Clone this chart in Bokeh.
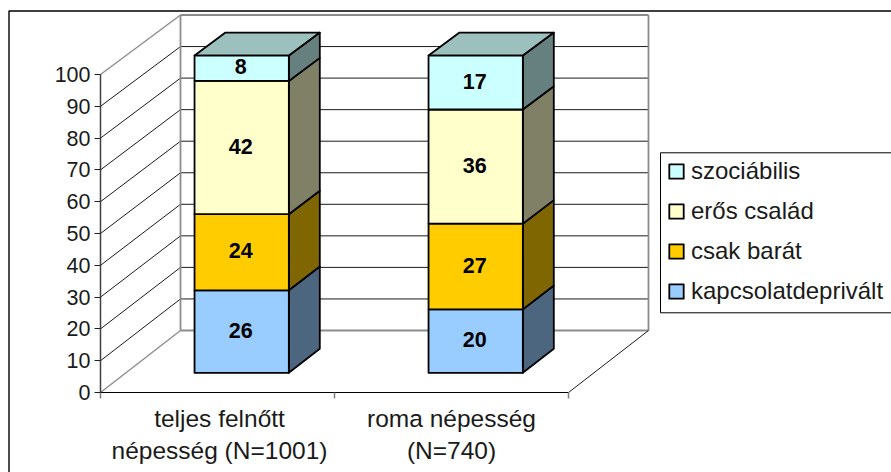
from bokeh.plotting import figure
from bokeh.models import LinearAxis, FixedTicker, Legend, LegendItem
from bokeh.core.properties import value
from bokeh.embed import file_html
from bokeh.resources import INLINE

categories = [["teljes felnőtt", "népesség (N=1001)"], ["roma népesség", "(N=740)"]]
series_names = ["kapcsolatdeprivált", "csak barát", "erős család", "szociábilis"]
kapcsolatdeprivalt = [26, 20]
csak_barat = [24, 27]
eros_csalad = [42, 36]
szociabilis = [8, 17]
y_ticks = [0, 10, 20, 30, 40, 50, 60, 70, 80, 90, 100]
front_colors = ["#99CCFF", "#FFCC00", "#FFFFCC", "#CCFFFF"]
side_colors = ["#4D6680", "#806600", "#808066", "#668080"]
top_color = "#9CC0BD"
FONT = "Liberation Sans"

# oblique projection: depth d in 0..1 shifts right and up
UNIT = 3.18          # px per value unit on the front plane
BACK = 3.155         # px per value unit on the back wall
DX, DY = 80, 62
X0, X1 = 100, 568
XM = (X0 + X1) / 2


def proj(x, v, d):
    s = UNIT + (BACK - UNIT) * d
    return x + DX * d, (v * s + DY * d) / UNIT


def vy(page_y):
    return (392 - page_y) / UNIT


p = figure(width=891, height=472, x_range=(0, 891), y_range=(vy(472), vy(0)),
           output_backend="svg", toolbar_location=None, min_border=0,
           x_axis_type=None, y_axis_type=None, outline_line_color=None)
p.grid.visible = False


def seg(a, b, color, w):
    p.line([a[0], b[0]], [a[1], b[1]], line_color=color, line_width=w)


# outer frame
p.line([8.5, 8.5, 891], [vy(472), vy(10.5), vy(10.5)], line_color="#000000", line_width=1.4)

# walls
GRAY = "#8C8C8C"
for v in y_ticks[1:-1]:
    seg(proj(X0, v, 0), proj(X0, v, 1), "#000000", 0.9)
    seg(proj(X0, v, 1), proj(X1, v, 1), "#000000", 0.9)
seg(proj(X0, 0, 1), proj(X1, 0, 1), GRAY, 1.8)
seg(proj(X0, 100, 1), proj(X1, 100, 1), GRAY, 1.8)
seg(proj(X0, 0, 1), proj(X0, 100, 1), GRAY, 1.8)
seg(proj(X1, 0, 1), proj(X1, 100, 1), GRAY, 1.8)
seg(proj(X0, 0, 0), proj(X0, 0, 1), GRAY, 1.4)
seg(proj(X0, 100, 0), proj(X0, 100, 1), GRAY, 1.4)
seg(proj(X1, 0, 0), proj(X1, 0, 1), "#000000", 0.9)

# axes
yaxis = LinearAxis(fixed_location=X0, ticker=FixedTicker(ticks=y_ticks), bounds=(0, 100),
                   axis_line_color="#404040", axis_line_width=1.5,
                   major_tick_line_color="#202020", major_tick_in=0, major_tick_out=6,
                   major_label_standoff=4, major_label_text_font=FONT,
                   major_label_text_font_size="21.5px", major_label_text_color="#1a1a1a")
p.add_layout(yaxis, "left")
xaxis = LinearAxis(fixed_location=0, ticker=FixedTicker(ticks=[X0, XM, X1]), bounds=(X0, X1),
                   axis_line_color="#000000", axis_line_width=1.1,
                   major_tick_line_color="#808080", major_tick_line_width=1.5,
                   major_tick_in=0, major_tick_out=6,
                   major_label_overrides={X0: "", XM: "", X1: ""})
p.add_layout(xaxis, "below")

# bars
BAR_L = [168.6, 402.6]
BAR_W = 94.3
D0, D1 = 0.318, 0.705
series = [kapcsolatdeprivalt, csak_barat, eros_csalad, szociabilis]
for j in range(2):
    base = 0
    for s, vals in enumerate(series):
        v0, v1 = base, base + vals[j]
        L, R = BAR_L[j], BAR_L[j] + BAR_W
        pts = [proj(R, v0, D0), proj(R, v0, D1), proj(R, v1, D1), proj(R, v1, D0)]
        p.patch([q[0] for q in pts], [q[1] for q in pts], fill_color=side_colors[s],
                line_color="#000000", line_width=1.8, line_join="round")
        base = v1
    pts = [proj(L, 100, D0), proj(L, 100, D1), proj(R, 100, D1), proj(R, 100, D0)]
    p.patch([q[0] for q in pts], [q[1] for q in pts], fill_color=top_color,
            line_color="#000000", line_width=1.8, line_join="round")

legend_items = []
tx, ty, tt = [], [], []
for s, vals in enumerate(series):
    xs, ys = [], []
    for j in range(2):
        base = sum(series[k][j] for k in range(s))
        L, R = BAR_L[j], BAR_L[j] + BAR_W
        a = proj(L, base, D0)
        b = proj(R, base + vals[j], D0)
        xs.append([a[0], b[0], b[0], a[0]])
        ys.append([a[1], a[1], b[1], b[1]])
        tx.append((a[0] + b[0]) / 2 - 1)
        ty.append((a[1] + b[1]) / 2)
        tt.append(str(vals[j]))
    r = p.patches(xs, ys, fill_color=front_colors[s], line_color="#000000",
                  line_width=1.8, line_join="round")
    legend_items.append(LegendItem(label=series_names[s], renderers=[r]))

p.text(tx, ty, text=tt, text_font=value(FONT), text_font_size="21.5px", text_font_style="bold",
       text_align="center", text_baseline="middle", text_color="#000000", y_offset=-1.5)

# category labels
lab_x = [219, 451]
for i, lines in enumerate(categories):
    for line, yy in zip(lines, [vy(418), vy(449.5)]):
        p.text([lab_x[i]], [yy], text=[line], text_font=value(FONT), text_font_size="24.5px",
               text_align="center", text_baseline="middle", text_color="#1a1a1a")

# legend box, then the legend itself without a border
p.quad(left=[660], right=[900], top=[vy(152.3)], bottom=[vy(312.3)], fill_color="#FFFFFF",
       line_color="#000000", line_width=1)
legend = Legend(items=legend_items[::-1], location=(667, 167), margin=0, padding=9,
                glyph_width=18, glyph_height=18, label_height=20, spacing=12,
                label_standoff=6, label_text_font=FONT, label_text_font_size="24px",
                label_text_color="#1a1a1a", border_line_color=None,
                background_fill_alpha=0)
p.add_layout(legend, "center")

open("out.html", "w").write(file_html(p, INLINE))
